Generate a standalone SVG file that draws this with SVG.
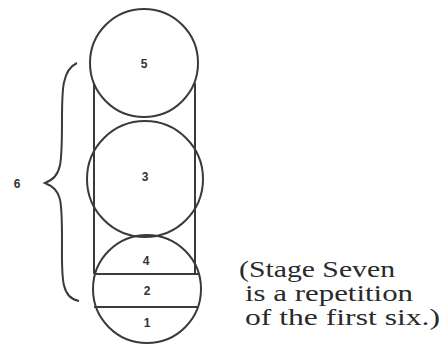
<svg xmlns="http://www.w3.org/2000/svg" width="444" height="349" viewBox="0 0 444 349">
<style>
.s{fill:none;stroke:#3a3a3a;stroke-width:2}
.n{font-family:"Liberation Sans",Arial,sans-serif;font-weight:bold;font-size:12px;fill:#333;text-anchor:middle}
.t{font-family:"Liberation Serif","Times New Roman",serif;font-size:23px;fill:#2a2a2a}
</style>
<rect width="444" height="349" fill="#fff"/>
<g id="connectors">
<line class="s" x1="94" y1="83" x2="94" y2="274"/>
<line class="s" x1="195" y1="83" x2="195" y2="274"/>
<path id="brace" class="s" d="M77,63 C62,70 62,90 62,120 C62,165 62,176 45,183 C62,190 62,200 62,240 C62,275 60,298 79,301"/>
</g>
<g id="node5"><circle class="s" cx="144" cy="63" r="54"/><text class="n" x="144" y="68">5</text></g>
<g id="node3"><circle class="s" cx="145" cy="179" r="58"/><text class="n" x="145" y="181">3</text></g>
<g id="bottom">
<circle class="s" cx="147" cy="289" r="54"/>
<line class="s" x1="95" y1="274" x2="198" y2="274"/>
<line class="s" x1="94" y1="307" x2="199" y2="307"/>
</g>
<g id="node4"><text class="n" x="146" y="265">4</text></g>
<g id="node2"><text class="n" x="147" y="295">2</text></g>
<g id="node1"><text class="n" x="147" y="327">1</text></g>
<g id="node6"><text class="n" x="17" y="188">6</text></g>
<g id="note">
<text class="t" x="239" y="277" textLength="156" lengthAdjust="spacingAndGlyphs">(Stage Seven</text>
<text class="t" x="245" y="301" textLength="168" lengthAdjust="spacingAndGlyphs">is a repetition</text>
<text class="t" x="245" y="325" textLength="195" lengthAdjust="spacingAndGlyphs">of the first six.)</text>
</g>
</svg>
